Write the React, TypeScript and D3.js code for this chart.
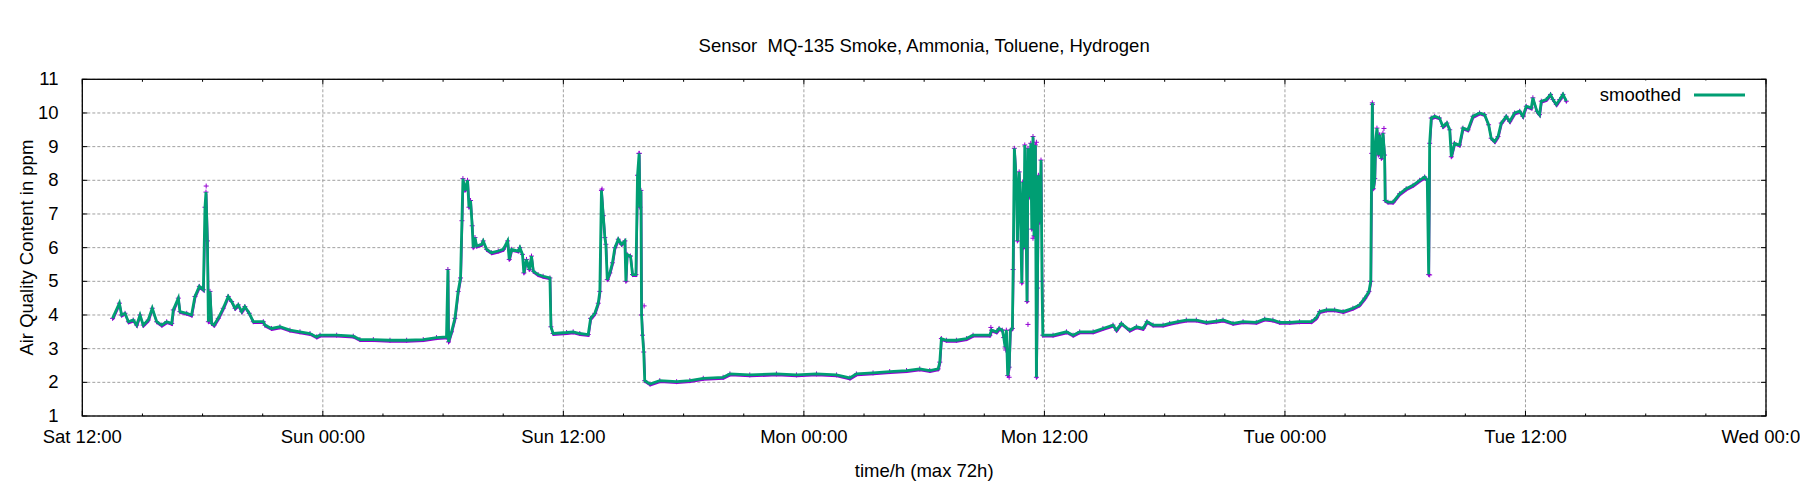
import React, { useEffect, useRef } from "react";
import * as d3 from "d3";

// hours after Sat 12:00 and the smoothed reading (ppm)
const hoursSinceStart = [
  1.51, 1.85, 1.96, 2.13, 2.3, 2.54, 2.71, 2.88, 3.04, 3.29, 3.49, 3.71, 3.96, 4.21, 4.46, 4.54, 4.79, 4.87,
  5.21, 5.45, 5.62, 5.84, 6.04, 6.12, 6.17, 6.24, 6.29, 6.37, 6.45, 6.57, 6.78, 7.03, 7.28, 7.45, 7.62, 7.78,
  7.95, 8.11, 8.33, 8.53, 9.03, 9.11, 9.44, 9.86, 10.36, 10.86, 11.36, 11.69, 11.86, 12.69, 13.52, 13.85,
  14.52, 15.35, 16.18, 17.01, 17.67, 18.17, 18.24, 18.27, 18.42, 18.59, 18.75, 18.87, 18.94, 18.99, 19.09,
  19.22, 19.29, 19.37, 19.45, 19.5, 19.59, 19.67, 19.92, 20.0, 20.17, 20.42, 20.75, 21.0, 21.22, 21.3, 21.42,
  21.75, 21.83, 21.96, 22.03, 22.16, 22.3, 22.41, 22.5, 22.74, 22.99, 23.33, 23.38, 23.49, 24.16, 24.49,
  24.82, 25.24, 25.36, 25.57, 25.74, 25.82, 25.9, 25.99, 26.07, 26.12, 26.19, 26.32, 26.45, 26.57, 26.74,
  26.9, 27.07, 27.12, 27.18, 27.35, 27.45, 27.62, 27.7, 27.78, 27.82, 27.87, 27.9, 27.95, 28.01, 28.06,
  28.32, 28.81, 29.65, 30.31, 30.98, 31.97, 32.31, 33.3, 34.63, 35.63, 36.63, 37.63, 38.29, 38.62, 39.45,
  40.28, 41.12, 41.78, 42.28, 42.7, 42.78, 42.86, 43.11, 43.61, 44.11, 44.44, 45.28, 45.36, 45.61, 45.74,
  45.9, 45.97, 46.04, 46.1, 46.17, 46.24, 46.3, 46.4, 46.44, 46.5, 46.6, 46.65, 46.74, 46.8, 46.87, 46.92,
  46.97, 47.02, 47.07, 47.13, 47.18, 47.27, 47.32, 47.37, 47.43, 47.48, 47.55, 47.6, 47.65, 47.7, 47.77,
  47.83, 47.88, 47.92, 48.43, 49.1, 49.43, 49.76, 50.43, 50.92, 51.42, 51.59, 51.84, 52.25, 52.59, 52.92,
  53.12, 53.42, 53.92, 54.25, 54.66, 55.08, 55.58, 56.08, 56.58, 56.91, 57.41, 57.91, 58.57, 58.99, 59.4,
  59.74, 60.24, 60.73, 61.32, 61.57, 61.73, 62.07, 62.48, 62.9, 63.39, 63.72, 63.98, 64.19, 64.28, 64.33,
  64.36, 64.41, 64.48, 64.52, 64.59, 64.66, 64.72, 64.81, 64.89, 64.97, 65.0, 65.14, 65.39, 65.72, 66.05,
  66.39, 66.72, 66.97, 67.1, 67.17, 67.22, 67.3, 67.47, 67.71, 67.88, 68.08, 68.22, 68.3, 68.46, 68.71,
  68.88, 69.13, 69.38, 69.71, 69.96, 70.16, 70.29, 70.46, 70.63, 70.79, 71.04, 71.21, 71.46, 71.71, 71.87,
  72.04, 72.29, 72.37, 72.57, 72.7, 72.79, 73.04, 73.25, 73.37, 73.54, 73.71, 73.87, 74.04,
];

const smoothedPpm = [
  3.9, 4.35, 4.0, 4.05, 3.8, 3.85, 3.7, 4.0, 3.7, 3.85, 4.2, 3.8, 3.7, 3.8, 3.75, 4.15, 4.5, 4.1,
  4.05, 4.0, 4.55, 4.85, 4.75, 7.2, 7.65, 6.2, 3.8, 4.7, 3.75, 3.7, 3.9, 4.2, 4.55, 4.4, 4.2, 4.3,
  4.1, 4.25, 4.05, 3.8, 3.8, 3.7, 3.6, 3.65, 3.55, 3.5, 3.45, 3.35, 3.4, 3.4, 3.37, 3.27,
  3.27, 3.25, 3.25, 3.27, 3.33, 3.35, 5.35, 3.2, 3.5, 3.9, 4.7, 5.1, 6.8, 8.05, 7.7,
  8.0, 7.2, 7.4, 6.65, 6.0, 6.3, 6.05, 6.1, 6.2, 5.95, 5.85, 5.9, 5.95, 6.2, 5.65, 5.95,
  5.9, 6.0, 5.8, 5.25, 5.65, 5.35, 5.75, 5.3, 5.2, 5.15, 5.1, 3.65, 3.45, 3.48, 3.5,
  3.45, 3.42, 3.9, 4.05, 4.35, 4.7, 7.7, 6.95, 6.3, 6.1, 5.05, 5.25, 5.55, 6.0, 6.25,
  6.1, 6.2, 5.0, 5.8, 5.75, 5.2, 5.2, 8.15, 8.8, 7.2, 7.7, 4.0, 3.4, 2.9, 2.05,
  1.95, 2.05, 2.02, 2.05, 2.12, 2.15, 2.25, 2.22, 2.25, 2.22, 2.25, 2.22, 2.13, 2.25, 2.28,
  2.32, 2.35, 2.4, 2.35, 2.4, 2.6, 3.3, 3.25, 3.25, 3.3, 3.4, 3.4, 3.55, 3.5, 3.6,
  3.55, 3.33, 3.05, 3.55, 2.2, 2.45, 3.55, 3.6, 5.35, 8.95, 7.95, 6.2, 8.25, 7.15, 4.95, 7.95,
  6.0, 9.05, 7.4, 4.4, 8.95, 7.5, 9.1, 6.55, 9.3, 6.35, 9.05, 2.15, 4.8, 8.15, 6.75,
  8.6, 5.0, 3.4, 3.4, 3.5, 3.4, 3.5, 3.5, 3.6, 3.7, 3.55, 3.75, 3.55, 3.65, 3.6,
  3.8, 3.7, 3.7, 3.75, 3.8, 3.85, 3.85, 3.78, 3.82, 3.85, 3.75, 3.8, 3.78, 3.88, 3.85,
  3.78, 3.78, 3.8, 3.8, 3.92, 4.1, 4.15, 4.15, 4.1, 4.2, 4.3, 4.5, 4.7, 5.0, 8.8,
  10.3, 7.75, 8.05, 9.15, 9.55, 8.75, 9.35, 8.65, 9.4, 8.75, 7.4, 7.35, 7.35, 7.6, 7.75,
  7.85, 8.0, 8.1, 8.0, 5.2, 9.1, 9.85, 9.9, 9.85, 9.6, 9.7, 9.5, 8.7, 9.1, 9.05,
  9.55, 9.5, 9.9, 10.0, 9.95, 9.65, 9.25, 9.15, 9.3, 9.7, 9.9, 9.75, 10.0, 10.05, 9.9,
  10.2, 10.15, 10.45, 10.05, 9.95, 10.35, 10.4, 10.55, 10.4, 10.25, 10.4, 10.55, 10.35,
];

// raw readings that stand out from the smoothed line
const rawOutlierHours = [6.18, 25.93, 27.78, 28.03, 45.33, 46.07, 46.24, 47.18, 47.43, 47.6, 64.36, 64.94, 67.22];
const rawOutlierPpm = [7.83, 7.74, 8.8, 4.27, 3.63, 2.96, 2.15, 3.72, 6.28, 9.13, 10.25, 9.54, 5.19];

const yTicks = [1, 2, 3, 4, 5, 6, 7, 8, 9, 10, 11];

const title = "Sensor  MQ-135 Smoke, Ammonia, Toluene, Hydrogen";
const xTitle = "time/h (max 72h)";
const yTitle = "Air Quality Content in ppm";
const seriesName = "smoothed";

const START = new Date(2019, 2, 2, 12, 0); // a Saturday
const toDate = (h: number) => new Date(START.getTime() + h * 3600 * 1000);

const App: React.FC = () => {
  const svgRef = useRef<SVGSVGElement>(null);

  useEffect(() => {
    if (!svgRef.current) return;
    const svg = d3.select(svgRef.current);
    svg.selectAll("*").remove();

    const left = 82.3, right = 1766, top = 79.3, bottom = 416;
    const font = "'Liberation Sans', Arial, Helvetica, sans-serif";
    const fs = 18.5;

    const x = d3.scaleTime().domain([START, toDate(84)]).range([left, right]);
    const y = d3.scaleLinear().domain([1, 11]).range([bottom, top]);

    const majorX = d3.timeHour.every(12)!.range(START, toDate(84.01));
    const minorX = d3.timeHour.every(3)!.range(START, toDate(84.01));

    // grid
    const grid = svg.append("g")
      .attr("stroke", "#a0a0a0")
      .attr("stroke-width", 1)
      .attr("stroke-dasharray", "3,2");
    majorX.forEach(d => {
      grid.append("line")
        .attr("x1", x(d)).attr("x2", x(d))
        .attr("y1", top).attr("y2", bottom);
    });
    yTicks.forEach(v => {
      grid.append("line")
        .attr("x1", left).attr("x2", right)
        .attr("y1", y(v)).attr("y2", y(v));
    });

    // ticks (inward, mirrored)
    const ticks = svg.append("g").attr("stroke", "#000").attr("stroke-width", 1);
    minorX.forEach(d => {
      const major = d.getHours() % 12 === 0;
      const len = major ? 5 : 2.5;
      ticks.append("line").attr("x1", x(d)).attr("x2", x(d)).attr("y1", bottom).attr("y2", bottom - len);
      ticks.append("line").attr("x1", x(d)).attr("x2", x(d)).attr("y1", top).attr("y2", top + len);
    });
    yTicks.forEach(v => {
      ticks.append("line").attr("x1", left).attr("x2", left + 5).attr("y1", y(v)).attr("y2", y(v));
      ticks.append("line").attr("x1", right).attr("x2", right - 5).attr("y1", y(v)).attr("y2", y(v));
    });

    // tick labels
    const fmt = d3.timeFormat("%a %H:%M");
    svg.append("g")
      .selectAll("text")
      .data(majorX)
      .enter().append("text")
      .attr("x", d => x(d))
      .attr("y", 443)
      .attr("text-anchor", "middle")
      .attr("font-family", font)
      .attr("font-size", fs)
      .text(d => fmt(d));

    svg.append("g")
      .selectAll("text")
      .data(yTicks)
      .enter().append("text")
      .attr("x", 58.5)
      .attr("y", d => y(d) + 6)
      .attr("text-anchor", "end")
      .attr("font-family", font)
      .attr("font-size", fs)
      .text(d => String(d));

    const pts = hoursSinceStart.map((h, i) => ({ date: toDate(h), value: smoothedPpm[i] }));
    const outliers = rawOutlierHours.map((h, i) => ({ date: toDate(h), value: rawOutlierPpm[i] }));

    const line = d3.line<{ date: Date; value: number }>()
      .x(d => x(d.date))
      .y(d => y(d.value));

    // raw readings (purple), peeking out under the smoothed line
    svg.append("path")
      .datum(pts)
      .attr("fill", "none")
      .attr("stroke", "#9400d3")
      .attr("stroke-width", 2)
      .attr("transform", "translate(0.4,1.4)")
      .attr("d", line);

    svg.append("g")
      .selectAll("path")
      .data(pts.concat(outliers))
      .enter().append("path")
      .attr("d", "M-2.5,0H2.5M0,-2.5V2.5")
      .attr("transform", d => `translate(${x(d.date)},${y(d.value)})`)
      .attr("stroke", "#9400d3")
      .attr("stroke-width", 1)
      .attr("fill", "none");

    // smoothed line
    svg.append("path")
      .datum(pts)
      .attr("fill", "none")
      .attr("stroke", "#009e73")
      .attr("stroke-width", 2.8)
      .attr("d", line);

    // border
    svg.append("rect")
      .attr("x", left).attr("y", top)
      .attr("width", right - left).attr("height", bottom - top)
      .attr("fill", "none")
      .attr("stroke", "#000")
      .attr("stroke-width", 1.3);

    // legend
    svg.append("rect")
      .attr("x", 1592).attr("y", 80.5)
      .attr("width", 165).attr("height", 28)
      .attr("fill", "#fff");
    svg.append("text")
      .attr("x", 1681).attr("y", 101)
      .attr("text-anchor", "end")
      .attr("font-family", font)
      .attr("font-size", fs)
      .text(seriesName);
    svg.append("line")
      .attr("x1", 1694).attr("x2", 1745)
      .attr("y1", 95).attr("y2", 95)
      .attr("stroke", "#009e73")
      .attr("stroke-width", 2.8);

    // titles
    svg.append("text")
      .attr("x", (left + right) / 2).attr("y", 52)
      .attr("text-anchor", "middle")
      .attr("font-family", font)
      .attr("font-size", fs)
      .style("white-space", "pre")
      .text(title);
    svg.append("text")
      .attr("x", (left + right) / 2).attr("y", 477)
      .attr("text-anchor", "middle")
      .attr("font-family", font)
      .attr("font-size", fs)
      .text(xTitle);
    svg.append("text")
      .attr("transform", `translate(32.5,${(top + bottom) / 2}) rotate(-90)`)
      .attr("text-anchor", "middle")
      .attr("font-family", font)
      .attr("font-size", fs)
      .text(yTitle);
  }, []);

  return (
    <svg
      ref={svgRef}
      width={1800}
      height={500}
      style={{ position: "absolute", left: 0, top: 0, background: "#fff", overflow: "hidden" }}
    />
  );
};

export default App;
